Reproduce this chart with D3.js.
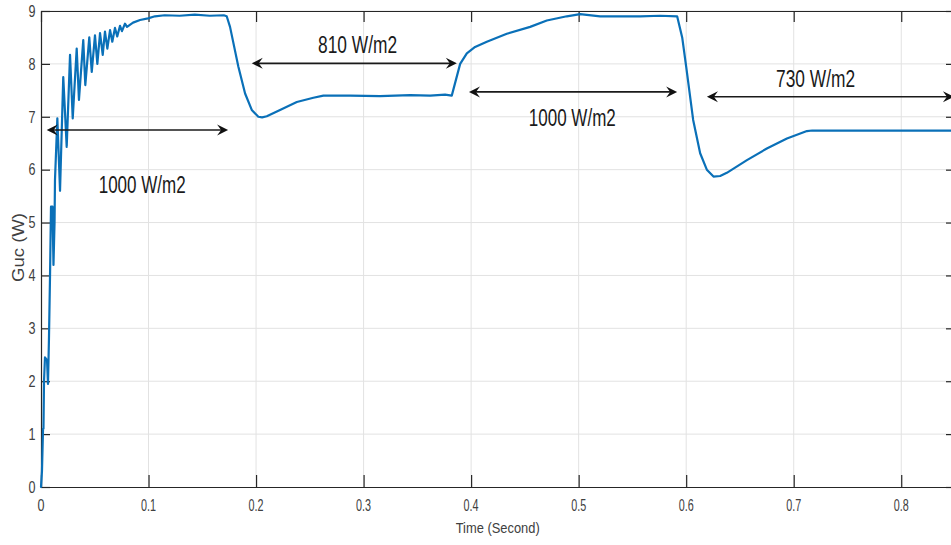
<!DOCTYPE html>
<html><head><meta charset="utf-8">
<script src="https://cdn.jsdelivr.net/npm/d3@7"></script>
<style>
body{margin:0;background:#fff;overflow:hidden}
svg{display:block}
text{font-family:"Liberation Sans",Arial,sans-serif}
</style>
</head><body>
<svg id="c" width="951" height="545"></svg>
<script>
// ---- data ----
const time = [0,0.0009,0.0019,0.0023,0.0028,0.0037,0.0056,0.0065,0.0074,0.0084,0.0093,0.0107,0.0116,0.0126,0.013,
  0.0152,0.0177,0.0207,0.0239,0.027,0.0295,0.0332,0.0353,0.0393,0.0412,0.0449,0.0472,0.0502,0.0524,0.0549,0.0574,
  0.0595,0.0617,0.0642,0.0663,0.0688,0.0709,0.0735,0.0753,0.0781,0.08,0.0856,0.0921,0.0995,0.106,0.115,0.129,0.143,
  0.157,0.170,0.1727,0.1758,0.1835,0.1898,0.196,0.2021,0.2056,0.21,0.2223,0.2379,0.2533,0.2626,0.2874,0.3153,0.3433,
  0.3619,0.3758,0.382,0.3898,0.396,0.4037,0.4146,0.4332,0.4549,0.4704,0.489,0.5014,0.52,0.5386,0.5572,0.5758,0.5916,
  0.5963,0.6,0.6065,0.613,0.6192,0.6254,0.6316,0.6378,0.6565,0.675,0.6937,0.7123,0.7172,0.85];
const guc = [0,0.3,1.1,1.1,2.0,2.45,2.4,1.95,2.8,4.0,5.3,5.3,4.2,5.0,5.8,
  6.97,5.6,7.75,6.43,8.17,6.97,8.29,7.32,8.45,7.6,8.5,7.85,8.54,8.0,8.58,8.17,
  8.61,8.29,8.64,8.42,8.68,8.52,8.72,8.62,8.76,8.7,8.78,8.83,8.86,8.9,8.92,8.91,8.93,
  8.91,8.92,8.9,8.7,7.95,7.44,7.13,7.0,6.99,7.01,7.13,7.28,7.36,7.40,7.40,7.39,7.41,
  7.40,7.42,7.40,8.0,8.2,8.32,8.42,8.57,8.7,8.82,8.9,8.94,8.9,8.9,8.9,8.91,8.9,
  8.5,7.95,6.94,6.31,6.0,5.87,5.88,5.94,6.18,6.4,6.59,6.73,6.74,6.74];

const xTickValues = [0,0.1,0.2,0.3,0.4,0.5,0.6,0.7,0.8];
const xTickLabels = ["0","0.1","0.2","0.3","0.4","0.5","0.6","0.7","0.8"];
const yTickValues = [0,1,2,3,4,5,6,7,8,9];
const yTickLabels = ["0","1","2","3","4","5","6","7","8","9"];

const xTitle = "Time (Second)";
const yTitle = "Guc (W)";

// annotations: irradiance intervals (in data units)
const annLabels = ["1000 W/m2","810 W/m2","1000 W/m2","730 W/m2"];
const annStart  = [0.0053,0.196,0.398,0.6193];
const annEnd    = [0.174,0.3867,0.5916,0.849];
const annLevel  = [6.75,8.01,7.47,7.38];
const annTextT  = [0.0941,0.2944,0.4941,0.7203];
const annTextV  = [5.552,8.204,6.824,7.556];

// ---- layout ----
const svg = d3.select("#c");
const L = 41, R = 955, T = 11, B = 487;
const x = d3.scaleLinear().domain([0,0.85]).range([L,R]);
const y = d3.scaleLinear().domain([0,9]).range([B,T]);

svg.append("rect").attr("width",951).attr("height",545).attr("fill","#fff");

// grid
const grid = svg.append("g");
grid.selectAll(".gx").data(xTickValues.slice(1)).join("line")
  .attr("x1",d=>x(d)).attr("x2",d=>x(d)).attr("y1",T).attr("y2",B)
  .attr("stroke","#e2e2e2").attr("stroke-width",1);
grid.selectAll(".gy").data(yTickValues.slice(1)).join("line")
  .attr("x1",L).attr("x2",R).attr("y1",d=>y(d)).attr("y2",d=>y(d))
  .attr("stroke","#e2e2e2").attr("stroke-width",1);

// axes (box, with inward ticks)
const axisColor = "#262626";
const xb = svg.append("g").attr("transform",`translate(0,${B})`)
  .call(d3.axisBottom(x).tickValues(xTickValues).tickSizeInner(-12).tickSizeOuter(0).tickFormat(""));
const xt = svg.append("g").attr("transform",`translate(0,${T})`)
  .call(d3.axisTop(x).tickValues(xTickValues).tickSizeInner(-11).tickSizeOuter(0).tickFormat(""));
const yl = svg.append("g").attr("transform",`translate(${L},0)`)
  .call(d3.axisLeft(y).tickValues(yTickValues).tickSizeInner(-9).tickSizeOuter(0).tickFormat(""));
const yr = svg.append("g").attr("transform",`translate(${R},0)`)
  .call(d3.axisRight(y).tickValues(yTickValues).tickSizeInner(-9).tickSizeOuter(0).tickFormat(""));
[xb,xt,yl,yr].forEach(g=>{
  g.selectAll("path,line").attr("stroke",axisColor).attr("stroke-width",1.2);
});

// tick labels
const tickFill = "#404040";
svg.append("g").selectAll("text").data(xTickValues).join("text")
  .attr("x",(d,i)=>x(d)-(xTickLabels[i].length>1?7.5:3.5))
  .attr("y",511)
  .attr("font-size",16).attr("fill",tickFill)
  .attr("textLength",(d,i)=>xTickLabels[i].length>1?15:7)
  .attr("lengthAdjust","spacingAndGlyphs")
  .text((d,i)=>xTickLabels[i]);
svg.append("g").selectAll("text").data(yTickValues).join("text")
  .attr("x",28.5)
  .attr("y",d=>y(d)+5.8)
  .attr("font-size",16).attr("fill",tickFill)
  .attr("textLength",7).attr("lengthAdjust","spacingAndGlyphs")
  .text((d,i)=>yTickLabels[i]);

// axis titles
svg.append("text").attr("x",497.7-42).attr("y",533.3)
  .attr("font-size",15).attr("fill",tickFill)
  .attr("textLength",84).attr("lengthAdjust","spacingAndGlyphs").text(xTitle);
svg.append("text").attr("transform","translate(24,247.5) rotate(-90)")
  .attr("x",-34.5).attr("y",0)
  .attr("font-size",16).attr("fill",tickFill)
  .attr("textLength",69).attr("lengthAdjust","spacingAndGlyphs").text(yTitle);

// data line
svg.append("clipPath").attr("id","clip").append("rect")
  .attr("x",L-2).attr("y",T-3).attr("width",R-L+4).attr("height",B-T+5);
const line = d3.line().x((d,i)=>x(time[i])).y((d,i)=>y(guc[i]));
svg.append("path").datum(guc).attr("clip-path","url(#clip)")
  .attr("d",line).attr("fill","none").attr("stroke","#0a70b8")
  .attr("stroke-width",2.2).attr("stroke-linejoin","round").attr("stroke-linecap","round");

// annotations
const ann = svg.append("g");
function head(tx,ty,dir){ // dir=+1 points right, -1 points left
  const l=11, w=5.5, n=7;
  return `M${tx},${ty} L${tx-dir*l},${ty-w} L${tx-dir*n},${ty} L${tx-dir*l},${ty+w} Z`;
}
annLabels.forEach((lab,i)=>{
  const x1=x(annStart[i]), x2=x(annEnd[i]), yy=y(annLevel[i]);
  ann.append("line").attr("x1",x1+5).attr("x2",x2-5).attr("y1",yy).attr("y2",yy)
    .attr("stroke","#1a1a1a").attr("stroke-width",1.6);
  ann.append("path").attr("d",head(x1,yy,-1)).attr("fill","#111");
  ann.append("path").attr("d",head(x2,yy,1)).attr("fill","#111");
  const tl = lab.length===9?87:79;
  ann.append("text").attr("x",x(annTextT[i])-tl/2).attr("y",y(annTextV[i]))
    .attr("font-size",23).attr("fill","#1a1a1a")
    .attr("textLength",tl).attr("lengthAdjust","spacingAndGlyphs").text(lab);
});
</script>
</body></html>
